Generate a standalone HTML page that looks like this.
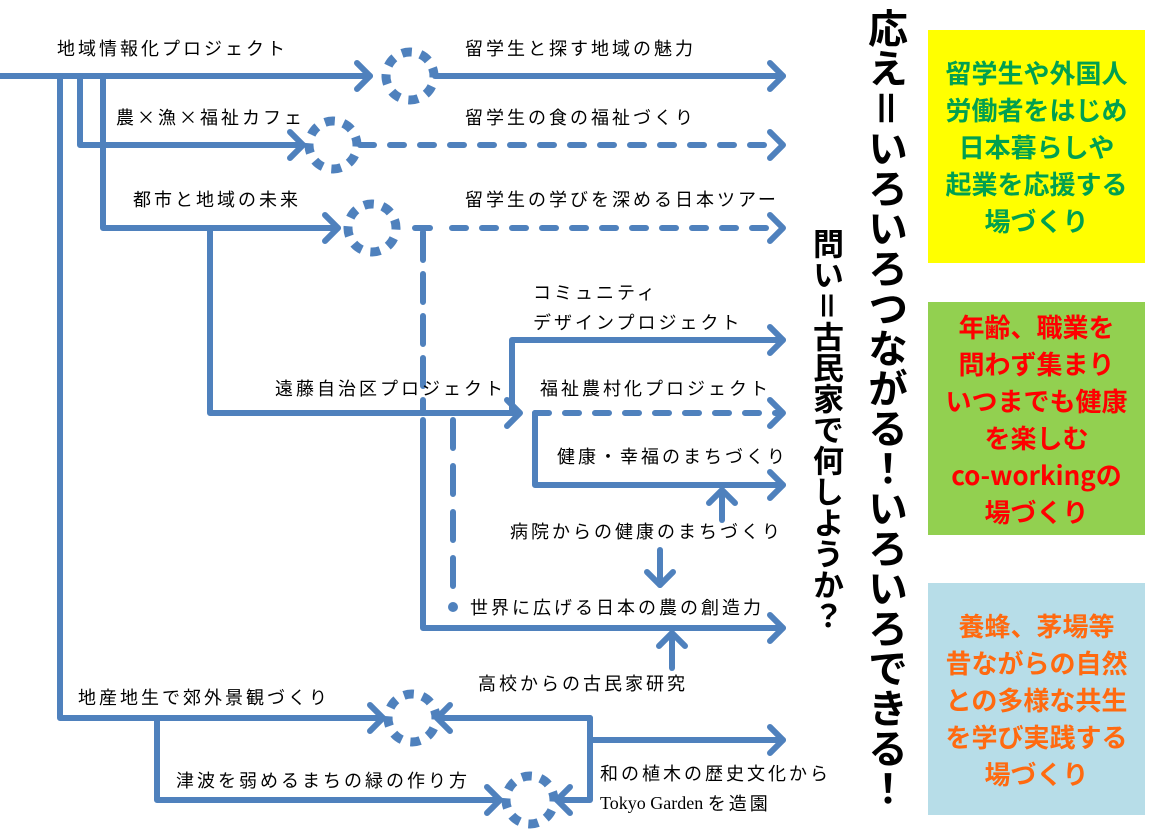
<!DOCTYPE html>
<html><head><meta charset="utf-8"><style>
html,body{margin:0;padding:0;background:#fff;}
body{width:1160px;height:831px;position:relative;overflow:hidden;font-family:"Liberation Sans","Noto Sans CJK JP",sans-serif;}
svg{position:absolute;left:0;top:0;}
.v{position:absolute;writing-mode:vertical-rl;font-weight:bold;color:#000;font-family:"Noto Sans CJK JP",sans-serif;}
.box{position:absolute;left:928px;width:217px;display:flex;align-items:center;justify-content:center;text-align:center;font-weight:bold;font-size:26px;line-height:37px;font-family:"Noto Sans CJK JP",sans-serif;}
</style></head><body>
<svg width="1160" height="831" id="s">
<g id="shapes" stroke="#4f81bd" stroke-width="6" fill="none" stroke-linecap="round" stroke-linejoin="round"></g>
<g font-family="'Noto Sans CJK JP',sans-serif" font-size="18" letter-spacing="3" fill="#000" dominant-baseline="central">
<text x="57" y="48">地域情報化プロジェクト</text>
<text x="465" y="48">留学生と探す地域の魅力</text>
<text x="116" y="117">農×漁×福祉カフェ</text>
<text x="465" y="117">留学生の食の福祉づくり</text>
<text x="133" y="199">都市と地域の未来</text>
<text x="465" y="199">留学生の学びを深める日本ツアー</text>
<text x="533" y="292">コミュニティ</text>
<text x="533" y="322">デザインプロジェクト</text>
<text x="275" y="388">遠藤自治区プロジェクト</text>
<text x="540" y="388">福祉農村化プロジェクト</text>
<text x="557" y="456">健康・幸福のまちづくり</text>
<text x="510" y="531">病院からの健康のまちづくり</text>
<text x="470" y="607">世界に広げる日本の農の創造力</text>
<text x="478" y="683">高校からの古民家研究</text>
<text x="78" y="697">地産地生で郊外景観づくり</text>
<text x="176" y="780">津波を弱めるまちの緑の作り方</text>
<text x="600" y="773">和の植木の歴史文化から</text>
<text x="600" y="803" letter-spacing="0" font-family="'Liberation Serif',serif">Tokyo Garden <tspan letter-spacing="3" font-family="'Noto Sans CJK JP',sans-serif">を造園</tspan></text>
</g>
</svg>
<div class="v" style="left:812px;top:228px;font-size:31px;line-height:32px;">問い＝古民家で何しようか？</div>
<div class="v" style="left:866px;top:8px;font-size:40px;line-height:44px;">応え＝いろいろつながる！いろいろできる！</div>
<div class="box" style="top:30px;height:233px;background:#ffff00;color:#00a050;">留学生や外国人<br>労働者をはじめ<br>日本暮らしや<br>起業を応援する<br>場づくり</div>
<div class="box" style="top:302px;height:233px;background:#92d050;color:#ff0000;">年齢、職業を<br>問わず集まり<br>いつまでも健康<br>を楽しむ<br>co-workingの<br>場づくり</div>
<div class="box" style="top:583px;height:232px;background:#b7dde8;color:#ff6a10;">養蜂、茅場等<br>昔ながらの自然<br>との多様な共生<br>を学び実践する<br>場づくり</div>
<script>
var g=document.getElementById('shapes'),ns='http://www.w3.org/2000/svg';
function el(t,a){var e=document.createElementNS(ns,t);for(var k in a)e.setAttribute(k,a[k]);g.appendChild(e);return e;}
function L(pts,dash){var a={points:pts};if(dash)a['stroke-dasharray']=dash;el('polyline',a);}
function A(x,y,d){var s=13;var p;
 if(d=='r')p=[x-s,y-s,x,y,x-s,y+s];if(d=='l')p=[x+s,y-s,x,y,x+s,y+s];
 if(d=='u')p=[x-s,y+s,x,y,x+s,y+s];if(d=='d')p=[x-s,y-s,x,y,x+s,y-s];
 el('polyline',{points:p.join(' ')});}
function C(x,y){el('circle',{cx:x,cy:y,r:24,'stroke-width':9,'stroke-dasharray':'10 8.85',stroke:'#4f81bd',transform:'rotate(-20 '+x+' '+y+')','stroke-linecap':'butt'});}
var D='14 16';
L('0,76 370,76');A(370,76,'r');C(410,76);L('435,76 783,76');A(783,76,'r');
L('60,76 60,718 383,718');A(383,718,'r');
L('80,76 80,145 303,145');A(303,145,'r');C(333,145);L('360,145 780,145',D);A(783,145,'r');
L('103,76 103,228 338,228');A(338,228,'r');C(372,228);L('415,228 430,228');L('452,228 780,228',D);A(783,228,'r');
L('210,228 210,413 518,413');A(520,413,'r');L('535,413 780,413',D);A(783,413,'r');
L('423,232 423,410','28 14');L('423,420 423,628 783,628');A(783,628,'r');
L('453,420 453,590','28 18');el('circle',{cx:453,cy:607,r:2,fill:'#4f81bd'});
L('512,413 512,340 783,340');A(783,340,'r');
L('535,413 535,485 783,485');A(783,485,'r');
L('722,520 722,490');A(722,490,'u');
L('660,550 660,585');A(660,585,'d');
L('672,668 672,633');A(672,633,'u');
C(412,718);L('590,718 437,718');A(437,718,'l');L('590,718 590,800 557,800');A(557,800,'l');
L('590,740 783,740');A(783,740,'r');
L('157,718 157,800 500,800');A(500,800,'r');C(530,800);
</script>
</body></html>
